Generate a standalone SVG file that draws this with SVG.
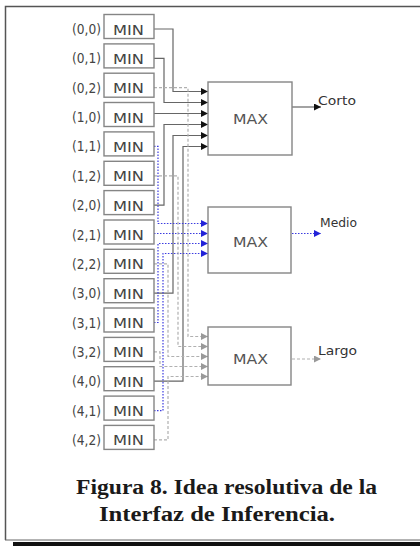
<svg xmlns="http://www.w3.org/2000/svg" width="420" height="546" viewBox="0 0 420 546">
<style>
.frame{stroke:#555;stroke-width:1.5;fill:none}
.minb{fill:#fff;stroke:#858585;stroke-width:1.4}
.maxb{fill:#fff;stroke:#858585;stroke-width:1.4}
.lbl{font-family:"DejaVu Sans",sans-serif;font-size:14px;fill:#444}
.mt{font-family:"DejaVu Sans",sans-serif;font-size:14px;fill:#444}
.xt{font-family:"DejaVu Sans",sans-serif;font-size:14.5px;fill:#555}
.out{font-family:"DejaVu Sans",sans-serif;font-size:13px;fill:#333}
.cap{font-family:"Liberation Serif",serif;font-weight:bold;font-size:20px;fill:#1a1a1a}
.k{fill:none;stroke:#666;stroke-width:1.2}
.b{fill:none;stroke:#3b3be0;stroke-width:1.2;stroke-dasharray:1.5 1.5}
.g{fill:none;stroke:#b0b0b0;stroke-width:1.2;stroke-dasharray:3 2}
</style>
<defs>
<marker id="ak" viewBox="0 0 7 7" refX="7" refY="3.5" markerWidth="7" markerHeight="7" markerUnits="userSpaceOnUse" orient="auto"><path d="M0,0 L7,3.5 L0,7 z" fill="#111"/></marker>
<marker id="abl" viewBox="0 0 7 7" refX="7" refY="3.5" markerWidth="7" markerHeight="7" markerUnits="userSpaceOnUse" orient="auto"><path d="M0,0 L7,3.5 L0,7 z" fill="#2323d8"/></marker>
<marker id="ag" viewBox="0 0 7 7" refX="7" refY="3.5" markerWidth="7" markerHeight="7" markerUnits="userSpaceOnUse" orient="auto"><path d="M0,0 L7,3.5 L0,7 z" fill="#999"/></marker>
</defs>
<rect x="0" y="0" width="420" height="546" fill="#fff"/>
<g id="frame">
<path class="frame" d="M5.5,540 V6.5 H420"/>
<path d="M5,540 H420" stroke="#666" stroke-width="1"/>
<rect x="13" y="542" width="407" height="4" fill="#111"/>
</g>
<g id="connectors">
<path class="k" d="M154,29 H173 V91.5 H208" marker-end="url(#ak)"/>
<path class="k" d="M154,58.4 H164 V102.5 H208" marker-end="url(#ak)"/>
<path class="k" d="M154,113.5 H208" marker-end="url(#ak)"/>
<path class="k" d="M154,205.1 H164 V124.5 H208" marker-end="url(#ak)"/>
<path class="k" d="M154,293.2 H173 V135.5 H208" marker-end="url(#ak)"/>
<path class="k" d="M154,381.2 H183 V146.5 H208" marker-end="url(#ak)"/>
<path class="b" d="M154,146.4 H158 V223.5 H208" marker-end="url(#abl)"/>
<path class="b" d="M154,233.5 H208" marker-end="url(#abl)"/>
<path class="b" d="M154,322.5 H158 V243.5 H208" marker-end="url(#abl)"/>
<path class="b" d="M154,410.6 H163 V253.5 H208" marker-end="url(#abl)"/>
<path class="g" d="M154,87.7 H188 V336.5 H208" marker-end="url(#ag)"/>
<path class="g" d="M154,175.8 H178 V346.5 H208" marker-end="url(#ag)"/>
<path class="g" d="M154,263.8 H168 V356.5 H208" marker-end="url(#ag)"/>
<path class="g" d="M154,351.9 H160 V366.5 H208" marker-end="url(#ag)"/>
<path class="g" d="M154,439.9 H168 V376.5 H208" marker-end="url(#ag)"/>
<path class="k" d="M292,107 H321" stroke="#888" marker-end="url(#ak)"/>
<path class="b" d="M292,233.5 H321" marker-end="url(#abl)"/>
<path class="g" d="M292,359 H321" marker-end="url(#ag)"/>
</g>
<g id="min00"><text class="lbl" x="101" y="34" text-anchor="end" textLength="29" lengthAdjust="spacingAndGlyphs">(0,0)</text><rect class="minb" x="104" y="14.5" width="50" height="24"/><text class="mt" x="113" y="34.5" textLength="31" lengthAdjust="spacingAndGlyphs">MIN</text></g>
<g id="min01"><text class="lbl" x="101" y="63.4" text-anchor="end" textLength="29" lengthAdjust="spacingAndGlyphs">(0,1)</text><rect class="minb" x="104" y="43.9" width="50" height="24"/><text class="mt" x="113" y="63.9" textLength="31" lengthAdjust="spacingAndGlyphs">MIN</text></g>
<g id="min02"><text class="lbl" x="101" y="92.7" text-anchor="end" textLength="29" lengthAdjust="spacingAndGlyphs">(0,2)</text><rect class="minb" x="104" y="73.2" width="50" height="24"/><text class="mt" x="113" y="93.2" textLength="31" lengthAdjust="spacingAndGlyphs">MIN</text></g>
<g id="min10"><text class="lbl" x="101" y="122" text-anchor="end" textLength="29" lengthAdjust="spacingAndGlyphs">(1,0)</text><rect class="minb" x="104" y="102.5" width="50" height="24"/><text class="mt" x="113" y="122.5" textLength="31" lengthAdjust="spacingAndGlyphs">MIN</text></g>
<g id="min11"><text class="lbl" x="101" y="151.4" text-anchor="end" textLength="29" lengthAdjust="spacingAndGlyphs">(1,1)</text><rect class="minb" x="104" y="131.9" width="50" height="24"/><text class="mt" x="113" y="151.9" textLength="31" lengthAdjust="spacingAndGlyphs">MIN</text></g>
<g id="min12"><text class="lbl" x="101" y="180.8" text-anchor="end" textLength="29" lengthAdjust="spacingAndGlyphs">(1,2)</text><rect class="minb" x="104" y="161.3" width="50" height="24"/><text class="mt" x="113" y="181.3" textLength="31" lengthAdjust="spacingAndGlyphs">MIN</text></g>
<g id="min20"><text class="lbl" x="101" y="210.1" text-anchor="end" textLength="29" lengthAdjust="spacingAndGlyphs">(2,0)</text><rect class="minb" x="104" y="190.6" width="50" height="24"/><text class="mt" x="113" y="210.6" textLength="31" lengthAdjust="spacingAndGlyphs">MIN</text></g>
<g id="min21"><text class="lbl" x="101" y="239.5" text-anchor="end" textLength="29" lengthAdjust="spacingAndGlyphs">(2,1)</text><rect class="minb" x="104" y="220" width="50" height="24"/><text class="mt" x="113" y="240" textLength="31" lengthAdjust="spacingAndGlyphs">MIN</text></g>
<g id="min22"><text class="lbl" x="101" y="268.8" text-anchor="end" textLength="29" lengthAdjust="spacingAndGlyphs">(2,2)</text><rect class="minb" x="104" y="249.3" width="50" height="24"/><text class="mt" x="113" y="269.3" textLength="31" lengthAdjust="spacingAndGlyphs">MIN</text></g>
<g id="min30"><text class="lbl" x="101" y="298.2" text-anchor="end" textLength="29" lengthAdjust="spacingAndGlyphs">(3,0)</text><rect class="minb" x="104" y="278.7" width="50" height="24"/><text class="mt" x="113" y="298.7" textLength="31" lengthAdjust="spacingAndGlyphs">MIN</text></g>
<g id="min31"><text class="lbl" x="101" y="327.5" text-anchor="end" textLength="29" lengthAdjust="spacingAndGlyphs">(3,1)</text><rect class="minb" x="104" y="308" width="50" height="24"/><text class="mt" x="113" y="328" textLength="31" lengthAdjust="spacingAndGlyphs">MIN</text></g>
<g id="min32"><text class="lbl" x="101" y="356.9" text-anchor="end" textLength="29" lengthAdjust="spacingAndGlyphs">(3,2)</text><rect class="minb" x="104" y="337.4" width="50" height="24"/><text class="mt" x="113" y="357.4" textLength="31" lengthAdjust="spacingAndGlyphs">MIN</text></g>
<g id="min40"><text class="lbl" x="101" y="386.2" text-anchor="end" textLength="29" lengthAdjust="spacingAndGlyphs">(4,0)</text><rect class="minb" x="104" y="366.7" width="50" height="24"/><text class="mt" x="113" y="386.7" textLength="31" lengthAdjust="spacingAndGlyphs">MIN</text></g>
<g id="min41"><text class="lbl" x="101" y="415.6" text-anchor="end" textLength="29" lengthAdjust="spacingAndGlyphs">(4,1)</text><rect class="minb" x="104" y="396.1" width="50" height="24"/><text class="mt" x="113" y="416.1" textLength="31" lengthAdjust="spacingAndGlyphs">MIN</text></g>
<g id="min42"><text class="lbl" x="101" y="444.9" text-anchor="end" textLength="29" lengthAdjust="spacingAndGlyphs">(4,2)</text><rect class="minb" x="104" y="425.4" width="50" height="24"/><text class="mt" x="113" y="445.4" textLength="31" lengthAdjust="spacingAndGlyphs">MIN</text></g>
<g id="max1"><rect class="maxb" x="208" y="82" width="84" height="73"/><text class="xt" x="233" y="124" textLength="35" lengthAdjust="spacingAndGlyphs">MAX</text></g>
<g id="max2"><rect class="maxb" x="208" y="207" width="83" height="66"/><text class="xt" x="233" y="247" textLength="35" lengthAdjust="spacingAndGlyphs">MAX</text></g>
<g id="max3"><rect class="maxb" x="208" y="327" width="83" height="58"/><text class="xt" x="233" y="364" textLength="35" lengthAdjust="spacingAndGlyphs">MAX</text></g>
<g id="outputs">
<text class="out" x="318" y="104.5" textLength="38" lengthAdjust="spacingAndGlyphs">Corto</text>
<text class="out" x="320" y="227" textLength="37" lengthAdjust="spacingAndGlyphs">Medio</text>
<text class="out" x="318" y="355" textLength="39" lengthAdjust="spacingAndGlyphs">Largo</text>
</g>
<g id="caption">
<text class="cap" x="76" y="494" textLength="301" lengthAdjust="spacingAndGlyphs">Figura 8. Idea resolutiva de la</text>
<text class="cap" x="99" y="521" textLength="236" lengthAdjust="spacingAndGlyphs">Interfaz de Inferencia.</text>
</g>
</svg>
